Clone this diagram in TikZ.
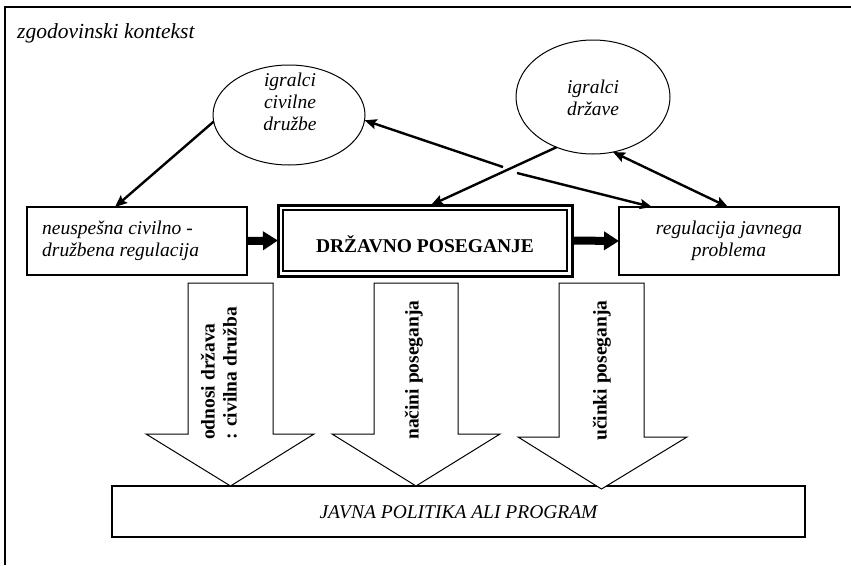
\documentclass[tikz,border=0pt]{standalone}
\usepackage{fontspec}
\setmainfont{Liberation Serif}
\usetikzlibrary{arrows.meta,calc,shapes.geometric}
\begin{document}
\begin{tikzpicture}[x=1pt,y=-1pt,
  txt/.style={font=\fontsize{19.5}{22}\selectfont\itshape, align=center, inner sep=0pt},
  btxt/.style={font=\fontsize{19.5}{22}\selectfont\bfseries, align=left, inner sep=0pt, rotate=90, anchor=west},
  box/.style={draw, line width=1.2pt, rectangle, inner sep=0pt, outer sep=0pt},
  oval/.style={draw, line width=1pt, ellipse, inner sep=0pt, outer sep=0pt},
  conn/.style={line width=2.4pt, -{Stealth[length=12pt,width=10pt,inset=2pt]}},
  dconn/.style={line width=2.4pt, {Stealth[length=12pt,width=10pt,inset=2pt]}-{Stealth[length=12pt,width=10pt,inset=2pt]}},
  blk/.style={line width=8pt, -{Triangle[length=15pt,width=18pt]}},
  darrow/.style={draw, line width=1pt, fill=white, line join=miter}
]
\useasboundingbox (0,0) rectangle (851,565);
% frame
\draw[line width=1.6pt] (851,7) -- (5,7) -- (5,565);
\node[txt, font=\fontsize{21.5}{24}\selectfont\itshape, anchor=west] (ctx) at (17,33) {zgodovinski kontekst};

% ellipses
\node[oval, minimum width=152pt, minimum height=100pt] (civ) at (289,115) {};
\node[txt] (civt) at (290,102) {igralci\\civilne\\družbe};
\node[oval, minimum width=154pt, minimum height=114pt] (drz) at (593,97) {};
\node[txt] (drzt) at (593,98) {igralci\\države};

% boxes
\node[box, minimum width=220pt, minimum height=68pt] (nb) at (137,241) {};
\node[txt, align=left, anchor=west] (nbt) at (42,241) {neuspešna civilno -\\družbena regulacija};
\node[box, line width=3pt, minimum width=294pt, minimum height=71pt] (dp) at (425,240.5) {};
\draw[line width=1.2pt] ([shift={(5pt,-5pt)}]dp.north west) rectangle ([shift={(-5pt,5pt)}]dp.south east);
\node[font=\fontsize{19.5}{22}\selectfont\bfseries, inner sep=0pt] (dpt) at (425,244) {DRŽAVNO POSEGANJE};
\node[box, minimum width=220pt, minimum height=68pt] (rg) at (729,241) {};
\node[txt] (rgt) at (729,241) {regulacija javnega\\problema};
\node[box, minimum width=693pt, minimum height=51pt] (jp) at (458.5,511.5) {};
\node[txt] (jpt) at (458.5,512) {JAVNA POLITIKA ALI PROGRAM};

% block arrows between boxes
\draw[blk] (nb.east) -- (dp.west);
\draw[blk] (dp.east) -- (rg.west);

% down arrows
\draw[darrow] (188,283) -- (273,283) -- (273,434) -- (314,434) -- (230.5,486) -- (146,434) -- (188,434) -- cycle;
\draw[darrow] (374,283) -- (458,283) -- (458,434) -- (500,434) -- (416,486) -- (332,434) -- (374,434) -- cycle;
\draw[darrow] (559,283) -- (644,283) -- (644,437) -- (687,437) -- (601.5,489) -- (518,437) -- (559,437) -- cycle;
\node[btxt] (a1) at (219,440) {odnosi država\\: civilna družba};
\node[btxt] (a2) at (414,440) {načini poseganja};
\node[btxt] (a3) at (602,441) {učinki poseganja};

% connectors
\coordinate (k1) at (503,167);
\coordinate (k2) at (517,173);
\draw[conn] (civ.185) -- ([xshift=-22pt]nb.north);
\draw[conn] (k1) -- (civ.-4);
\draw[conn] (k2) -- ([xshift=-77pt]rg.north);
\draw[conn] (drz.234) -- ([xshift=6pt]dp.north);
\draw[dconn] (drz.290) -- ([xshift=-1pt]rg.north);
\end{tikzpicture}
\end{document}
